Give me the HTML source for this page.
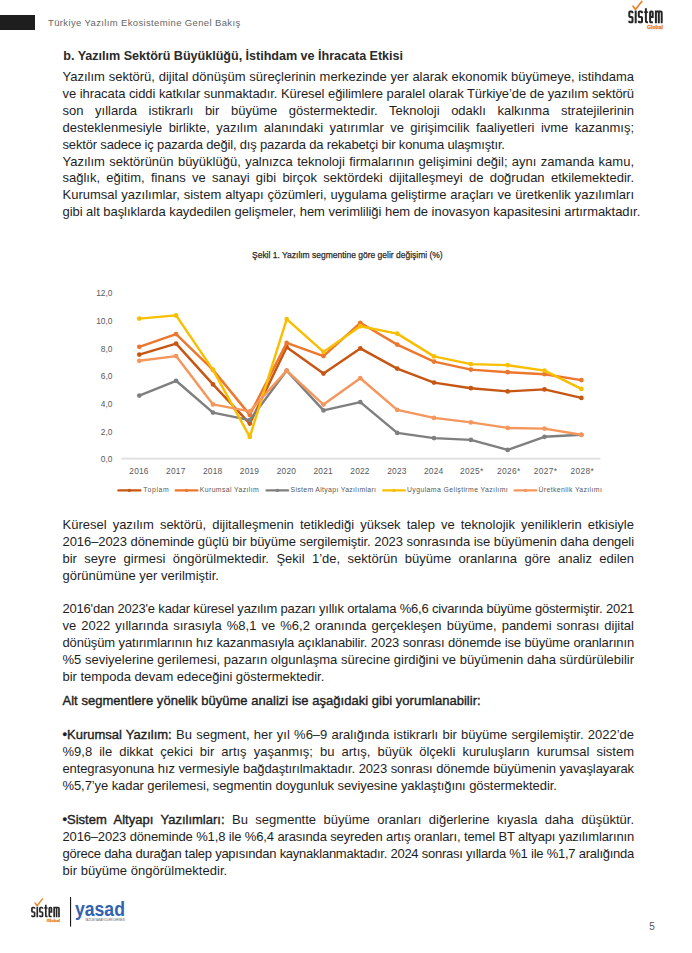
<!DOCTYPE html>
<html lang="tr">
<head>
<meta charset="utf-8">
<style>
html,body{margin:0;padding:0;background:#fff;}
body{width:692px;height:953px;position:relative;overflow:hidden;font-family:"Liberation Sans",sans-serif;}
.bar{position:absolute;left:0;top:15px;width:35px;height:14.7px;background:#1e1e1e;}
.htxt{position:absolute;left:48px;top:15.7px;font-size:9.5px;line-height:14px;color:#666;white-space:nowrap;letter-spacing:0.36px;}
.ln{position:absolute;left:62.5px;width:571.5px;font-size:13px;line-height:16.87px;height:16.87px;color:#1e1e1e;white-space:nowrap;}
.ln.j{text-align:justify;text-align-last:justify;white-space:normal;}
.ln b{font-weight:normal;-webkit-text-stroke:0.38px #1e1e1e;}
.sb{-webkit-text-stroke:0.38px #1e1e1e;}
.hd{font-size:12.6px;font-weight:bold;color:#2a2a2a;width:auto;}
.ctitle{position:absolute;left:252px;top:249px;font-size:9px;line-height:11px;color:#222;white-space:nowrap;}
.chart{position:absolute;left:0;top:0;}
.ax{font-family:"Liberation Sans",sans-serif;font-size:8.4px;fill:#595959;}
.ct{font-family:"Liberation Sans",sans-serif;font-size:9.8px;fill:#262626;stroke:#262626;stroke-width:0.25px;}
.lg{font-family:"Liberation Sans",sans-serif;font-size:6.9px;fill:#595959;}
.pn{position:absolute;left:649.3px;top:921.4px;font-size:10px;line-height:12px;color:#555;}
</style>
</head>
<body>
<div class="bar"></div>
<div class="htxt">Türkiye Yazılım Ekosistemine Genel Bakış</div>
<svg style="position:absolute;left:0;top:0" width="692" height="40" viewBox="0 0 692 40"><path d="M632.5,13.2 L632.5,12.5 Q632.5,11.6 631.6,11.6 L630.1999999999999,11.6 Q629.3,11.6 629.3,12.5 L629.3,16.05 Q629.3,16.95 630.1999999999999,16.95 L631.6,16.95 Q632.5,16.95 632.5,17.849999999999998 L632.5,21.400000000000002 Q632.5,22.3 631.6,22.3 L630.1999999999999,22.3 Q629.3,22.3 629.3,21.400000000000002 L629.3,20.7 M635.7,10.6 L635.7,23.3 M642.0,13.2 L642.0,12.5 Q642.0,11.6 641.1,11.6 L639.6999999999999,11.6 Q638.8,11.6 638.8,12.5 L638.8,16.05 Q638.8,16.95 639.6999999999999,16.95 L641.1,16.95 Q642.0,16.95 642.0,17.849999999999998 L642.0,21.400000000000002 Q642.0,22.3 641.1,22.3 L639.6999999999999,22.3 Q638.8,22.3 638.8,21.400000000000002 L638.8,20.7 M645.9,8.3 L645.9,21.3 Q645.9,22.3 646.9,22.3 L648.0,22.3 M650.1,17 L652.7,17 L652.7,12.5 Q652.7,11.6 651.8,11.6 L651.0,11.6 Q650.1,11.6 650.1,12.5 L650.1,21.4 Q650.1,22.3 651.0,22.3 L652.9,22.3 M655.9,23.3 L655.9,11.6 L660.8,11.6 Q661.7,11.6 661.7,12.5 L661.7,23.3 M658.8,11.6 L658.8,23.3" fill="none" stroke="#262626" stroke-width="2.0"/><path d="M643.9,12.1 L648.1,12.1" stroke="#262626" stroke-width="1.5"/><path d="M633.0,6.2 L635.5,9.5 L641.9,1.3" fill="none" stroke="#E8832A" stroke-width="1.7" stroke-linecap="round" stroke-linejoin="round"/><text x="647.1" y="28.8" font-family="Liberation Sans" font-weight="bold" font-size="4.9" fill="#E8832A" stroke="#E8832A" stroke-width="0.3" textLength="15.8" lengthAdjust="spacingAndGlyphs">Global</text></svg>
<div class="ln j" style="top:69.26px;letter-spacing:0.000px">Yazılım sektörü, dijital dönüşüm süreçlerinin merkezinde yer alarak ekonomik büyümeye, istihdama</div>
<div class="ln j" style="top:86.13px;letter-spacing:-0.078px">ve ihracata ciddi katkılar sunmaktadır. Küresel eğilimlere paralel olarak Türkiye’de de yazılım sektörü</div>
<div class="ln j" style="top:103.00px;letter-spacing:0.000px">son yıllarda istikrarlı bir büyüme göstermektedir. Teknoloji odaklı kalkınma stratejilerinin</div>
<div class="ln j" style="top:119.87px;letter-spacing:0.000px">desteklenmesiyle birlikte, yazılım alanındaki yatırımlar ve girişimcilik faaliyetleri ivme kazanmış;</div>
<div class="ln" style="top:136.74px;letter-spacing:-0.173px">sektör sadece iç pazarda değil, dış pazarda da rekabetçi bir konuma ulaşmıştır.</div>
<div class="ln j" style="top:153.61px;letter-spacing:0.000px">Yazılım sektörünün büyüklüğü, yalnızca teknoloji firmalarının gelişimini değil; aynı zamanda kamu,</div>
<div class="ln j" style="top:170.48px;letter-spacing:0.000px">sağlık, eğitim, finans ve sanayi gibi birçok sektördeki dijitalleşmeyi de doğrudan etkilemektedir.</div>
<div class="ln j" style="top:187.35px;letter-spacing:0.000px">Kurumsal yazılımlar, sistem altyapı çözümleri, uygulama geliştirme araçları ve üretkenlik yazılımları</div>
<div class="ln" style="top:204.22px;letter-spacing:-0.045px">gibi alt başlıklarda kaydedilen gelişmeler, hem verimliliği hem de inovasyon kapasitesini artırmaktadır.</div>
<div class="ln j" style="top:517.46px;letter-spacing:0.000px">Küresel yazılım sektörü, dijitalleşmenin tetiklediği yüksek talep ve teknolojik yeniliklerin etkisiyle</div>
<div class="ln j" style="top:534.33px;letter-spacing:-0.073px">2016–2023 döneminde güçlü bir büyüme sergilemiştir. 2023 sonrasında ise büyümenin daha dengeli</div>
<div class="ln j" style="top:551.20px;letter-spacing:0.000px">bir seyre girmesi öngörülmektedir. Şekil 1’de, sektörün büyüme oranlarına göre analiz edilen</div>
<div class="ln" style="top:568.07px;letter-spacing:0.012px">görünümüne yer verilmiştir.</div>
<div class="ln j" style="top:601.06px;letter-spacing:-0.203px">2016'dan 2023'e kadar küresel yazılım pazarı yıllık ortalama %6,6 civarında büyüme göstermiştir. 2021</div>
<div class="ln j" style="top:617.93px;letter-spacing:0.000px">ve 2022 yıllarında sırasıyla %8,1 ve %6,2 oranında gerçekleşen büyüme, pandemi sonrası dijital</div>
<div class="ln j" style="top:634.80px;letter-spacing:-0.144px">dönüşüm yatırımlarının hız kazanmasıyla açıklanabilir. 2023 sonrası dönemde ise büyüme oranlarının</div>
<div class="ln j" style="top:651.67px;letter-spacing:0.000px">%5 seviyelerine gerilemesi, pazarın olgunlaşma sürecine girdiğini ve büyümenin daha sürdürülebilir</div>
<div class="ln" style="top:668.54px;letter-spacing:-0.029px">bir tempoda devam edeceğini göstermektedir.</div>
<div class="ln j" style="top:727.26px;letter-spacing:-0.018px"><b>•Kurumsal Yazılım:</b> Bu segment, her yıl %6–9 aralığında istikrarlı bir büyüme sergilemiştir. 2022’de</div>
<div class="ln j" style="top:744.13px;letter-spacing:0.000px">%9,8 ile dikkat çekici bir artış yaşanmış; bu artış, büyük ölçekli kuruluşların kurumsal sistem</div>
<div class="ln j" style="top:761.00px;letter-spacing:-0.111px">entegrasyonuna hız vermesiyle bağdaştırılmaktadır. 2023 sonrası dönemde büyümenin yavaşlayarak</div>
<div class="ln" style="top:777.87px;letter-spacing:-0.085px">%5,7’ye kadar gerilemesi, segmentin doygunluk seviyesine yaklaştığını göstermektedir.</div>
<div class="ln j" style="top:811.96px;letter-spacing:0.000px"><b>•Sistem Altyapı Yazılımları:</b> Bu segmentte büyüme oranları diğerlerine kıyasla daha düşüktür.</div>
<div class="ln j" style="top:828.83px;letter-spacing:-0.155px">2016–2023 döneminde %1,8 ile %6,4 arasında seyreden artış oranları, temel BT altyapı yazılımlarının</div>
<div class="ln j" style="top:845.70px;letter-spacing:-0.257px">görece daha durağan talep yapısından kaynaklanmaktadır. 2024 sonrası yıllarda %1 ile %1,7 aralığında</div>
<div class="ln" style="top:862.57px;letter-spacing:0.025px">bir büyüme öngörülmektedir.</div>
<div class="ln sb" style="top:693.06px;letter-spacing:0.027px">Alt segmentlere yönelik büyüme analizi ise aşağıdaki gibi yorumlanabilir:</div>
<div class="ln hd" style="top:48.40px;left:63.3px;letter-spacing:-0.028px">b. Yazılım Sektörü Büyüklüğü, İstihdam ve İhracata Etkisi</div>
<svg class="chart" width="692" height="953" viewBox="0 0 692 953">
<text x="252" y="257.8" class="ct" textLength="190.7" lengthAdjust="spacingAndGlyphs">Şekil 1. Yazılım segmentine göre gelir değişimi (%)</text>
<line x1="121.4" y1="458.6" x2="600.3" y2="458.6" stroke="#DEDEDE" stroke-width="1.8"/>
<text x="96.2" y="296.3" class="ax" textLength="16.2" lengthAdjust="spacing">12,0</text>
<text x="96.2" y="323.9" class="ax" textLength="16.2" lengthAdjust="spacing">10,0</text>
<text x="100.7" y="351.6" class="ax" textLength="11.7" lengthAdjust="spacing">8,0</text>
<text x="100.7" y="379.2" class="ax" textLength="11.7" lengthAdjust="spacing">6,0</text>
<text x="100.7" y="406.9" class="ax" textLength="11.7" lengthAdjust="spacing">4,0</text>
<text x="100.7" y="434.6" class="ax" textLength="11.7" lengthAdjust="spacing">2,0</text>
<text x="100.7" y="462.2" class="ax" textLength="11.7" lengthAdjust="spacing">0,0</text>
<text x="129.3" y="473.6" class="ax" textLength="19.2" lengthAdjust="spacing">2016</text>
<text x="166.1" y="473.6" class="ax" textLength="19.2" lengthAdjust="spacing">2017</text>
<text x="203.0" y="473.6" class="ax" textLength="19.2" lengthAdjust="spacing">2018</text>
<text x="239.8" y="473.6" class="ax" textLength="19.2" lengthAdjust="spacing">2019</text>
<text x="276.7" y="473.6" class="ax" textLength="19.2" lengthAdjust="spacing">2020</text>
<text x="313.5" y="473.6" class="ax" textLength="19.2" lengthAdjust="spacing">2021</text>
<text x="350.3" y="473.6" class="ax" textLength="19.2" lengthAdjust="spacing">2022</text>
<text x="387.2" y="473.6" class="ax" textLength="19.2" lengthAdjust="spacing">2023</text>
<text x="424.0" y="473.6" class="ax" textLength="19.2" lengthAdjust="spacing">2024</text>
<text x="460.0" y="473.6" class="ax" textLength="23.3" lengthAdjust="spacing">2025*</text>
<text x="496.9" y="473.6" class="ax" textLength="23.3" lengthAdjust="spacing">2026*</text>
<text x="533.7" y="473.6" class="ax" textLength="23.3" lengthAdjust="spacing">2027*</text>
<text x="570.5" y="473.6" class="ax" textLength="23.3" lengthAdjust="spacing">2028*</text>
<polyline points="139.3,354.6 176.1,343.6 213.0,384.4 249.8,423.6 286.7,347.2 323.5,373.6 360.3,348.4 397.2,368.6 434.0,382.6 470.9,388.2 507.7,391.4 544.5,389.4 581.4,397.9" fill="none" stroke="#C65612" stroke-width="2.45" stroke-linejoin="round" stroke-linecap="round"/>
<circle cx="139.3" cy="354.6" r="2.35" fill="#C65612"/>
<circle cx="176.1" cy="343.6" r="2.35" fill="#C65612"/>
<circle cx="213.0" cy="384.4" r="2.35" fill="#C65612"/>
<circle cx="249.8" cy="423.6" r="2.35" fill="#C65612"/>
<circle cx="286.7" cy="347.2" r="2.35" fill="#C65612"/>
<circle cx="323.5" cy="373.6" r="2.35" fill="#C65612"/>
<circle cx="360.3" cy="348.4" r="2.35" fill="#C65612"/>
<circle cx="397.2" cy="368.6" r="2.35" fill="#C65612"/>
<circle cx="434.0" cy="382.6" r="2.35" fill="#C65612"/>
<circle cx="470.9" cy="388.2" r="2.35" fill="#C65612"/>
<circle cx="507.7" cy="391.4" r="2.35" fill="#C65612"/>
<circle cx="544.5" cy="389.4" r="2.35" fill="#C65612"/>
<circle cx="581.4" cy="397.9" r="2.35" fill="#C65612"/>
<polyline points="139.3,346.8 176.1,334.1 213.0,369.9 249.8,414.9 286.7,342.9 323.5,356.1 360.3,322.8 397.2,344.6 434.0,361.6 470.9,369.6 507.7,372.2 544.5,374.2 581.4,380.1" fill="none" stroke="#EC772D" stroke-width="2.45" stroke-linejoin="round" stroke-linecap="round"/>
<circle cx="139.3" cy="346.8" r="2.35" fill="#EC772D"/>
<circle cx="176.1" cy="334.1" r="2.35" fill="#EC772D"/>
<circle cx="213.0" cy="369.9" r="2.35" fill="#EC772D"/>
<circle cx="249.8" cy="414.9" r="2.35" fill="#EC772D"/>
<circle cx="286.7" cy="342.9" r="2.35" fill="#EC772D"/>
<circle cx="323.5" cy="356.1" r="2.35" fill="#EC772D"/>
<circle cx="360.3" cy="322.8" r="2.35" fill="#EC772D"/>
<circle cx="397.2" cy="344.6" r="2.35" fill="#EC772D"/>
<circle cx="434.0" cy="361.6" r="2.35" fill="#EC772D"/>
<circle cx="470.9" cy="369.6" r="2.35" fill="#EC772D"/>
<circle cx="507.7" cy="372.2" r="2.35" fill="#EC772D"/>
<circle cx="544.5" cy="374.2" r="2.35" fill="#EC772D"/>
<circle cx="581.4" cy="380.1" r="2.35" fill="#EC772D"/>
<polyline points="139.3,395.6 176.1,380.8 213.0,412.6 249.8,420.1 286.7,370.6 323.5,410.4 360.3,402.1 397.2,432.9 434.0,438.1 470.9,439.9 507.7,449.9 544.5,436.8 581.4,434.8" fill="none" stroke="#7F7F7F" stroke-width="2.45" stroke-linejoin="round" stroke-linecap="round"/>
<circle cx="139.3" cy="395.6" r="2.35" fill="#7F7F7F"/>
<circle cx="176.1" cy="380.8" r="2.35" fill="#7F7F7F"/>
<circle cx="213.0" cy="412.6" r="2.35" fill="#7F7F7F"/>
<circle cx="249.8" cy="420.1" r="2.35" fill="#7F7F7F"/>
<circle cx="286.7" cy="370.6" r="2.35" fill="#7F7F7F"/>
<circle cx="323.5" cy="410.4" r="2.35" fill="#7F7F7F"/>
<circle cx="360.3" cy="402.1" r="2.35" fill="#7F7F7F"/>
<circle cx="397.2" cy="432.9" r="2.35" fill="#7F7F7F"/>
<circle cx="434.0" cy="438.1" r="2.35" fill="#7F7F7F"/>
<circle cx="470.9" cy="439.9" r="2.35" fill="#7F7F7F"/>
<circle cx="507.7" cy="449.9" r="2.35" fill="#7F7F7F"/>
<circle cx="544.5" cy="436.8" r="2.35" fill="#7F7F7F"/>
<circle cx="581.4" cy="434.8" r="2.35" fill="#7F7F7F"/>
<polyline points="139.3,318.6 176.1,315.4 213.0,369.9 249.8,436.9 286.7,319.1 323.5,351.9 360.3,326.2 397.2,333.6 434.0,356.4 470.9,364.1 507.7,365.1 544.5,370.6 581.4,388.9" fill="none" stroke="#F8BE00" stroke-width="2.45" stroke-linejoin="round" stroke-linecap="round"/>
<circle cx="139.3" cy="318.6" r="2.35" fill="#F8BE00"/>
<circle cx="176.1" cy="315.4" r="2.35" fill="#F8BE00"/>
<circle cx="213.0" cy="369.9" r="2.35" fill="#F8BE00"/>
<circle cx="249.8" cy="436.9" r="2.35" fill="#F8BE00"/>
<circle cx="286.7" cy="319.1" r="2.35" fill="#F8BE00"/>
<circle cx="323.5" cy="351.9" r="2.35" fill="#F8BE00"/>
<circle cx="360.3" cy="326.2" r="2.35" fill="#F8BE00"/>
<circle cx="397.2" cy="333.6" r="2.35" fill="#F8BE00"/>
<circle cx="434.0" cy="356.4" r="2.35" fill="#F8BE00"/>
<circle cx="470.9" cy="364.1" r="2.35" fill="#F8BE00"/>
<circle cx="507.7" cy="365.1" r="2.35" fill="#F8BE00"/>
<circle cx="544.5" cy="370.6" r="2.35" fill="#F8BE00"/>
<circle cx="581.4" cy="388.9" r="2.35" fill="#F8BE00"/>
<polyline points="139.3,360.8 176.1,356.1 213.0,404.4 249.8,411.4 286.7,370.6 323.5,404.6 360.3,378.2 397.2,409.9 434.0,417.9 470.9,422.4 507.7,427.9 544.5,428.6 581.4,434.8" fill="none" stroke="#F5975C" stroke-width="2.45" stroke-linejoin="round" stroke-linecap="round"/>
<circle cx="139.3" cy="360.8" r="2.35" fill="#F5975C"/>
<circle cx="176.1" cy="356.1" r="2.35" fill="#F5975C"/>
<circle cx="213.0" cy="404.4" r="2.35" fill="#F5975C"/>
<circle cx="249.8" cy="411.4" r="2.35" fill="#F5975C"/>
<circle cx="286.7" cy="370.6" r="2.35" fill="#F5975C"/>
<circle cx="323.5" cy="404.6" r="2.35" fill="#F5975C"/>
<circle cx="360.3" cy="378.2" r="2.35" fill="#F5975C"/>
<circle cx="397.2" cy="409.9" r="2.35" fill="#F5975C"/>
<circle cx="434.0" cy="417.9" r="2.35" fill="#F5975C"/>
<circle cx="470.9" cy="422.4" r="2.35" fill="#F5975C"/>
<circle cx="507.7" cy="427.9" r="2.35" fill="#F5975C"/>
<circle cx="544.5" cy="428.6" r="2.35" fill="#F5975C"/>
<circle cx="581.4" cy="434.8" r="2.35" fill="#F5975C"/>
<line x1="118.5" y1="490.4" x2="140.3" y2="490.4" stroke="#C65612" stroke-width="2.4" stroke-linecap="round"/>
<circle cx="129.4" cy="490.4" r="1.7" fill="#C65612"/>
<text x="143.3" y="491.8" class="lg" textLength="25.5" lengthAdjust="spacing">Toplam</text>
<line x1="175.8" y1="490.4" x2="197.3" y2="490.4" stroke="#EC772D" stroke-width="2.4" stroke-linecap="round"/>
<circle cx="186.6" cy="490.4" r="1.7" fill="#EC772D"/>
<text x="199.8" y="491.8" class="lg" textLength="59.0" lengthAdjust="spacing">Kurumsal Yazılım</text>
<line x1="266.7" y1="490.4" x2="288.0" y2="490.4" stroke="#7F7F7F" stroke-width="2.4" stroke-linecap="round"/>
<circle cx="277.4" cy="490.4" r="1.7" fill="#7F7F7F"/>
<text x="290.5" y="491.8" class="lg" textLength="85.5" lengthAdjust="spacing">Sistem Altyapı Yazılımları</text>
<line x1="383.4" y1="490.4" x2="404.7" y2="490.4" stroke="#F8BE00" stroke-width="2.4" stroke-linecap="round"/>
<circle cx="394.0" cy="490.4" r="1.7" fill="#F8BE00"/>
<text x="407.0" y="491.8" class="lg" textLength="100.7" lengthAdjust="spacing">Uygulama Geliştirme Yazılımı</text>
<line x1="514.8" y1="490.4" x2="536.2" y2="490.4" stroke="#F5975C" stroke-width="2.4" stroke-linecap="round"/>
<circle cx="525.5" cy="490.4" r="1.7" fill="#F5975C"/>
<text x="538.5" y="491.8" class="lg" textLength="63.3" lengthAdjust="spacing">Üretkenlik Yazılımı</text>
</svg>
<svg style="position:absolute;left:0;top:890px" width="200" height="45" viewBox="0 890 200 45"><g transform="translate(-493.530,897.844) scale(0.835)"><path d="M632.5,13.2 L632.5,12.5 Q632.5,11.6 631.6,11.6 L630.1999999999999,11.6 Q629.3,11.6 629.3,12.5 L629.3,16.05 Q629.3,16.95 630.1999999999999,16.95 L631.6,16.95 Q632.5,16.95 632.5,17.849999999999998 L632.5,21.400000000000002 Q632.5,22.3 631.6,22.3 L630.1999999999999,22.3 Q629.3,22.3 629.3,21.400000000000002 L629.3,20.7 M635.7,10.6 L635.7,23.3 M642.0,13.2 L642.0,12.5 Q642.0,11.6 641.1,11.6 L639.6999999999999,11.6 Q638.8,11.6 638.8,12.5 L638.8,16.05 Q638.8,16.95 639.6999999999999,16.95 L641.1,16.95 Q642.0,16.95 642.0,17.849999999999998 L642.0,21.400000000000002 Q642.0,22.3 641.1,22.3 L639.6999999999999,22.3 Q638.8,22.3 638.8,21.400000000000002 L638.8,20.7 M645.9,8.3 L645.9,21.3 Q645.9,22.3 646.9,22.3 L648.0,22.3 M650.1,17 L652.7,17 L652.7,12.5 Q652.7,11.6 651.8,11.6 L651.0,11.6 Q650.1,11.6 650.1,12.5 L650.1,21.4 Q650.1,22.3 651.0,22.3 L652.9,22.3 M655.9,23.3 L655.9,11.6 L660.8,11.6 Q661.7,11.6 661.7,12.5 L661.7,23.3 M658.8,11.6 L658.8,23.3" fill="none" stroke="#262626" stroke-width="2.0"/><path d="M643.9,12.1 L648.1,12.1" stroke="#262626" stroke-width="1.5"/><path d="M633.0,6.2 L635.5,9.5 L641.9,1.3" fill="none" stroke="#E8832A" stroke-width="1.7" stroke-linecap="round" stroke-linejoin="round"/><text x="647.1" y="28.8" font-family="Liberation Sans" font-weight="bold" font-size="4.9" fill="#E8832A" stroke="#E8832A" stroke-width="0.3" textLength="15.8" lengthAdjust="spacingAndGlyphs">Global</text></g><rect x="70" y="897" width="1.1" height="29.6" fill="#1a1a1a"/><text x="75" y="916.4" font-family="Liberation Sans" font-weight="bold" font-size="20" fill="#3062AF" textLength="49.9" lengthAdjust="spacingAndGlyphs">yasad</text><text x="85" y="920.6" font-family="Liberation Sans" font-size="3" fill="#555" textLength="39.9" lengthAdjust="spacingAndGlyphs">YAZILIM SANAYİCİLERİ DERNEĞİ</text></svg>
<div class="pn">5</div>
</body>
</html>
